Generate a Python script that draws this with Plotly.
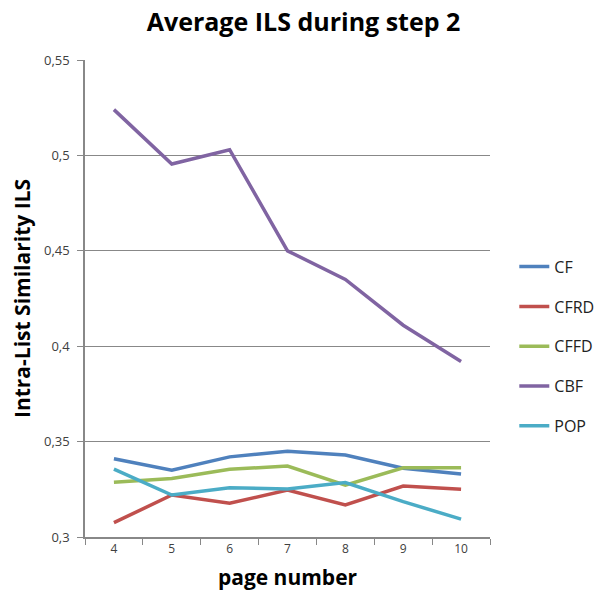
import plotly.graph_objects as go

pages = ["4", "5", "6", "7", "8", "9", "10"]
cf = [0.341, 0.335, 0.342, 0.345, 0.343, 0.336, 0.333]
cfrd = [0.3075, 0.322, 0.3177, 0.3246, 0.3168, 0.3267, 0.325]
cffd = [0.3287, 0.3307, 0.3355, 0.3372, 0.3272, 0.3363, 0.3363]
cbf = [0.524, 0.4955, 0.503, 0.45, 0.435, 0.411, 0.392]
pop = [0.3356, 0.322, 0.3258, 0.3252, 0.3285, 0.3185, 0.3094]

series = [
    ("CF", cf, "#4F81BD"),
    ("CFRD", cfrd, "#C0504D"),
    ("CFFD", cffd, "#9BBB59"),
    ("CBF", cbf, "#8064A2"),
    ("POP", pop, "#4BACC6"),
]

fig = go.Figure()
for name, vals, color in series:
    fig.add_trace(go.Scatter(
        x=pages, y=vals, name=name, mode="lines",
        line=dict(color=color, width=3.5), legendgroup=name,
    ))

fig.update_layout(
    width=597, height=596,
    margin=dict(l=77, r=115, t=52, b=67, autoexpand=False),
    paper_bgcolor="white", plot_bgcolor="white",
    separators=",.",
    font=dict(family="Open Sans, sans-serif", color="#222"),
    title=dict(text="<b>Average ILS during step 2</b>", x=0.495, xanchor="center",
               xref="container", yref="container",
               y=1.0, yanchor="top", pad=dict(t=5),
               font=dict(size=25, color="black")),
    legend=dict(x=1.06, y=0.40, xanchor="left", yanchor="middle",
                font=dict(size=16, color="#222"), tracegroupgap=16,
                traceorder="grouped", itemwidth=30),
    showlegend=True,
)
fig.update_xaxes(
    type="category", range=[-0.5, 6.5], tickson="boundaries",
    ticks="outside", ticklen=6, tickcolor="#888",
    showline=True, linecolor="#888", linewidth=1.5,
    showgrid=False, tickfont=dict(size=12, color="#404040"),
    title=dict(text="<b>page number</b>", font=dict(size=21, color="black"), standoff=14),
)
fig.update_yaxes(
    range=[0.3, 0.55], dtick=0.05, tick0=0.3,
    ticks="outside", ticklen=6, tickcolor="#888", ticklabelstandoff=5,
    showline=True, linecolor="#888", linewidth=1.5,
    showgrid=True, gridcolor="#888", gridwidth=1,
    tickfont=dict(size=13, color="#404040"),
    title=dict(text="<b>Intra-List Similarity ILS</b>", font=dict(size=21, color="black"), standoff=22),
)

fig.write_html("out.html")
